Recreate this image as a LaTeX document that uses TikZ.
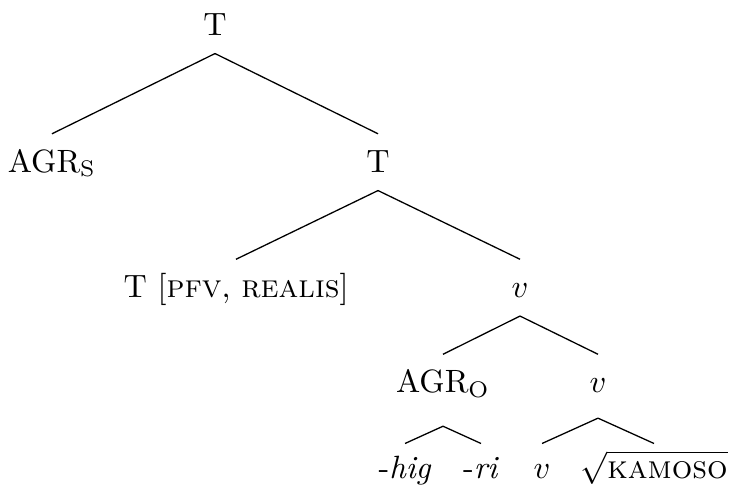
\documentclass[tikz,border=0pt]{standalone}
\usepackage{amsmath}
\usepackage{tikz}

\begin{document}
\begin{tikzpicture}[x=0.31pt,y=-0.31pt,
    cat/.style={anchor=base,inner sep=0pt,text height=11.65pt,text depth=5.55pt},
    leaf/.style={cat,text height=10.5pt}]

  \useasboundingbox (0,0) rectangle (729,491);

  \node[cat] (T0) at (215,35) {T};

  \node[cat] (AGRs) at (52,172) {AGR$_{\mathrm{S}}$};
  \node[cat] (T1) at (378,172) {T};

  \node[cat] (Tpfv) at (236,297.5) {T [\textsc{pfv}, \textsc{realis}]};
  \node[cat] (v1) at (520,297.5) {$v$};

  \node[cat,text depth=10.25pt] (AGRo) at (443,392.5) {AGR$_{\mathrm{O}}$};
  \node[cat,text depth=7.75pt] (v2) at (598,392.5) {$v$};

  \node[leaf] (hig) at (405,478) {-\textit{hig}};
  \node[leaf] (ri) at (481,478) {-\textit{ri}};
  \node[leaf] (v3) at (542,478) {$v$};
  \node[leaf] (root) at (654,478) {$\sqrt{\textsc{kamoso}}$};

  \path[draw]
        (T0.south) edge (AGRs.north)
        (T0.south) edge (T1.north)
        (T1.south) edge (Tpfv.north)
        (T1.south) edge (v1.north)
        (v1.south) edge (AGRo.north)
        (v1.south) edge (v2.north)
        (AGRo.south) edge (hig.north)
        (AGRo.south) edge (ri.north)
        (v2.south) edge (v3.north)
        (v2.south) edge (root.north)
;
\end{tikzpicture}
\end{document}
